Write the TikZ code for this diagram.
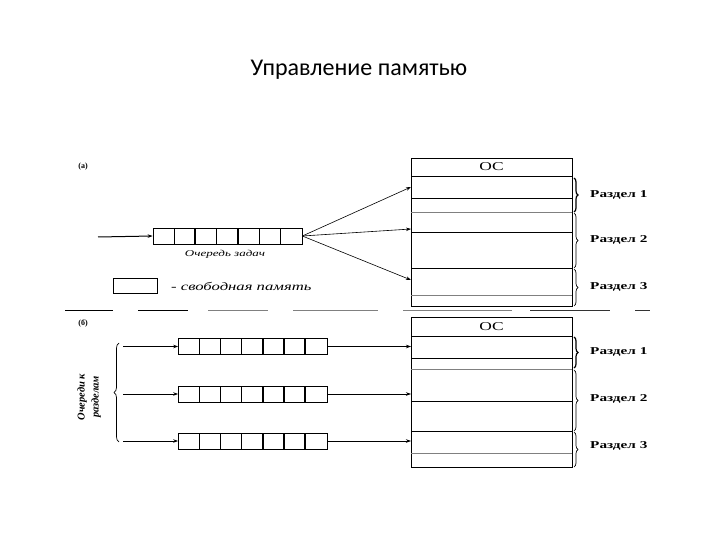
\documentclass[tikz,border=0pt]{standalone}
\usepackage{fontspec}
\setmainfont{Liberation Serif}
\newfontfamily\titlefont{Carlito}
\newfontfamily\wideserif[FakeStretch=1.45]{Liberation Serif}
\usetikzlibrary{arrows.meta,decorations.pathreplacing}

\begin{document}
\begin{tikzpicture}[x=1pt,y=-1pt,>={Stealth[length=5pt,width=3.5pt]},
    every node/.style={inner sep=0pt},
    queue/.style={draw,line width=0.7pt,minimum width=149pt,minimum height=16pt},
    memory/.style={draw,line width=0.8pt,minimum width=161pt},
    part/.style={font=\wideserif\fontsize{10.5}{12}\selectfont\bfseries,anchor=west},
    note/.style={font=\wideserif\fontsize{10.5}{12}\selectfont\itshape},
    tag/.style={font=\fontsize{8}{10}\selectfont\bfseries},
    brace/.style={decorate,decoration={brace,amplitude=4pt},line width=0.7pt},
    link/.style={->,line width=0.6pt}]
    \useasboundingbox (0,0) rectangle (720,540);

    \node[font=\titlefont\fontsize{24}{28}\selectfont] (title) at (359,70) {Управление памятью};

    % (a) one queue for all partitions
    \node[tag] (taga) at (83,167) {(а)};
    \node[queue] (qa) at (227.5,236) {};
    \foreach \i/\w in {1/0.6,2/1.6,3/1.6,4/1.6,5/0.6,6/0.6}
      \draw[line width=\w pt] ([xshift=\i*21.29pt]qa.south west) -- ([xshift=\i*21.29pt]qa.north west);
    \coordinate (ina) at (98,237);
    \draw[link,line width=1pt] (ina) -- (qa.west);
    \node[note,font=\wideserif\fontsize{9}{11}\selectfont\itshape] (qlabel) at (225,254.5) {Очередь задач};
    \node[draw,line width=0.7pt,minimum width=44pt,minimum height=15pt] (free) at (135,285.5) {};
    \node[note,anchor=west,font=\wideserif\fontsize{11.5}{13}\selectfont\itshape] (freetext) at (171,286) {- свободная память};

    \node[memory,minimum height=148pt] (ma) at (491.5,232) {};
    \node[font=\wideserif\fontsize{12}{14}\selectfont] (osa) at (491.5,167) {ОС};
    \foreach \y/\c in {176/black,198/black,212.7/gray,232/black,268/black,295.7/gray}
      \draw[\c,line width=0.6pt] (411,\y) -- (572,\y);
    \coordinate (ta1) at (411,187);
    \coordinate (ta2) at (411,229);
    \coordinate (ta3) at (411,280);
    \foreach \n in {1,2,3}
      \draw[link] (qa.east) -- (ta\n);

    \draw[brace,line width=1.2pt] (574,178) -- (574,212);
    \draw[brace] (574,213) -- (574,268);
    \draw[brace] (574,269) -- (574,306);
    \node[part] (ra1) at (590,195) {Раздел 1};
    \node[part] (ra2) at (590,240) {Раздел 2};
    \node[part] (ra3) at (590,287) {Раздел 3};

    % separator
    \foreach \a/\b/\c in {65/113/black,138/188/black,208/268/gray,293/378/gray,403/512/gray,530/610/black!80,635/650/black!80}
      \draw[\c,line width=0.9pt] (\a,310.5) -- (\b,310.5);

    % (b) a queue for each partition
    \node[tag] (tagb) at (83,323) {(б)};
    \node[memory,minimum height=150pt] (mb) at (491.5,392) {};
    \node[font=\wideserif\fontsize{12}{14}\selectfont] (osb) at (491.5,326.5) {ОС};
    \foreach \y/\c in {336/black,358/black,369/gray,401/black,431/black,453/gray}
      \draw[\c,line width=0.6pt] (411,\y) -- (572,\y);

    \foreach \n/\y in {1/346.5,2/394,3/441}{
      \node[queue] (qb\n) at (253,\y) {};
      \foreach \i/\w in {1/0.6,2/0.6,3/1,4/1.6,5/1.6,6/1.6}
        \draw[line width=\w pt] ([xshift=\i*21.14pt]qb\n.south west) -- ([xshift=\i*21.14pt]qb\n.north west);
      \coordinate (sb\n) at (123,\y);
      \coordinate (tb\n) at (411,\y);
      \draw[link,line width=0.8pt] (sb\n) -- (qb\n.west);
      \draw[link] (qb\n.east) -- (tb\n);
    }
    \draw[brace,decoration={amplitude=5pt}] (119,442) -- (119,343);
    \node[rotate=90,align=center,font=\itshape\bfseries\fontsize{10.5}{14}\selectfont] (qtext) at (89,397) {Очереди к\\разделам};

    \draw[brace,line width=1.2pt] (574,337) -- (574,368);
    \draw[brace] (574,370) -- (574,431);
    \draw[brace] (574,432) -- (574,467);
    \node[part] (rb1) at (590,352) {Раздел 1};
    \node[part] (rb2) at (590,399) {Раздел 2};
    \node[part] (rb3) at (590,446) {Раздел 3};
\end{tikzpicture}
\end{document}
